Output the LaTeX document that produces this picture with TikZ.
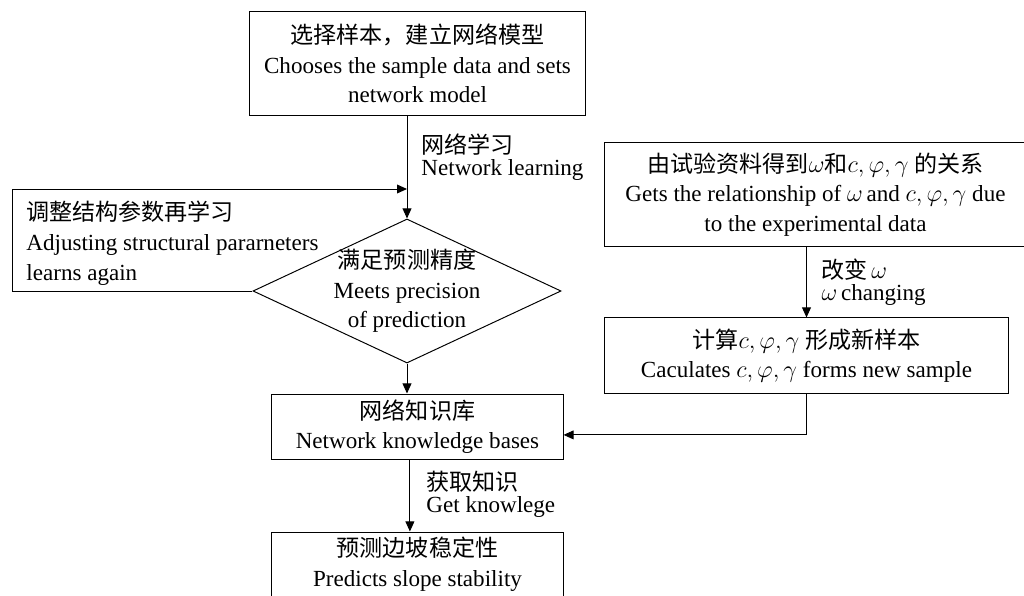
\documentclass[tikz,border=0pt]{standalone}
\usepackage{fontspec}
\setmainfont{Liberation Serif}
\newfontfamily\cjk{Noto Sans CJK SC}
\usetikzlibrary{arrows.meta,shapes.geometric,positioning}

\begin{document}
\begin{tikzpicture}[x=0.025cm, y=-0.025cm, >={Triangle[length=0.25cm,width=0.22cm]}, line width=0.7pt,
	box/.style={draw, align=center, inner sep=0pt, font=\fontsize{16.4}{21}\selectfont},
	lbl/.style={align=left, inner sep=0pt, anchor=west, font=\fontsize{16.4}{15.5}\selectfont}]
	\useasboundingbox (0,0) rectangle (1024,596);
	% Nodes {sel, judge, kb, pred, rel, calc}
	\node [box, minimum width=8.375cm, minimum height=2.575cm] (sel) at (417.5,63.5)
		{{\cjk 选择样本，建立网络模型}\\Chooses the sample data and sets\\network model};
	\node [draw, diamond, minimum width=7.7cm, minimum height=3.6cm, inner sep=0pt,
		label={[box, draw=none]center:{\cjk 满足预测精度}\\Meets precision\\of prediction}] (judge) at (407,291) {};
	\node [box, minimum width=7.275cm, minimum height=1.625cm] (kb) at (417.5,426.5)
		{{\cjk 网络知识库}\\Network knowledge bases};
	\node [box, minimum width=7.275cm, minimum height=1.6cm] (pred) at (417.5,564)
		{{\cjk 预测边坡稳定性}\\Predicts slope stability};
	\node [box, minimum width=10.525cm, minimum height=2.575cm] (rel) at (815.5,194.5)
		{{\cjk 由试验资料得到}$\omega${\cjk 和}$c,\varphi,\gamma$ {\cjk 的关系}\\Gets the relationship of $\omega$\,and $c,\varphi,\gamma$ due\\to the experimental data};
	\node [box, minimum width=10.075cm, minimum height=1.875cm] (calc) at (806.5,355.5)
		{{\cjk 计算}$c,\varphi,\gamma$ {\cjk 形成新样本}\\Caculates $c,\varphi,\gamma$ forms new sample};
	\coordinate (back) at (12,189);
	
	% Labels
	\node [lbl] (learnlbl)  at (421,157.5) {{\cjk 网络学习}\\Network learning};
	\node [lbl, font=\fontsize{16.4}{21.5}\selectfont] (adjustlbl) at (26,243) {{\cjk 调整结构参数再学习}\\Adjusting structural pararneters\\learns again};
	\node [lbl] (changelbl) at (821,282.5) {{\cjk 改变}\,$\omega$\\$\omega$\,changing};
	\node [lbl] (getlbl)    at (426,494)   {{\cjk 获取知识}\\Get knowlege};
	
	% Paths
	\draw [->] (judge.north |- sel.south) -- (judge.north);
	\draw [->] (judge.west) -| (back) -- (judge.north |- back);
	\draw [->] (judge.south) -- (judge.south |- kb.north);
	\draw [->] ([xshift=-0.19cm]kb.south) -- ([xshift=-0.19cm]pred.north);
	\draw [->] (calc.north |- rel.south) -- (calc.north);
	\draw [->] (calc.south) |- ([yshift=-0.21cm]kb.east);
\end{tikzpicture}
\end{document}
